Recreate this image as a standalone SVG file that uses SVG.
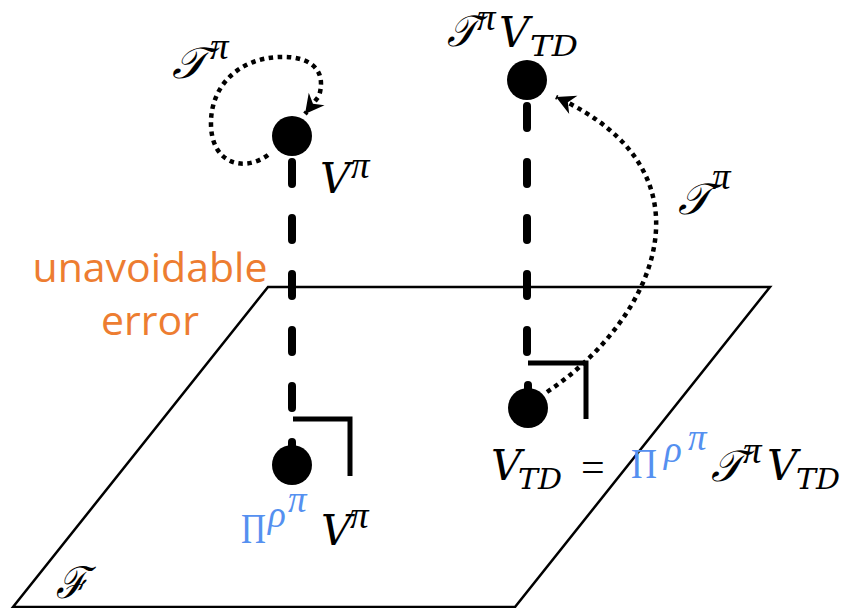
<svg xmlns="http://www.w3.org/2000/svg" width="842" height="608" viewBox="0 0 842 608">
<defs>
<style>
.plane{fill:none;stroke:#000;stroke-width:2.5;stroke-linejoin:miter}
.dash{fill:none;stroke:#000;stroke-width:8;stroke-linecap:round;stroke-dasharray:22 34}
.stub{fill:none;stroke:#000;stroke-width:8;stroke-linecap:round}
.ra{fill:none;stroke:#000;stroke-width:5;stroke-linejoin:miter}
.dot{fill:none;stroke:#000;stroke-width:4.5;stroke-dasharray:4.5 4.5}
.node{fill:#000}
.m{font-family:"DejaVu Serif","Liberation Serif",serif;font-style:italic;fill:#000}
.g{font-family:"Liberation Serif","DejaVu Serif",serif;font-style:italic}
.up{font-family:"Liberation Serif","DejaVu Serif",serif;font-style:normal}
.blue{fill:#5590F0}
.big{font-size:42px}
.scr{font-size:44px}
.sup{font-size:37px}
.sub{font-size:28px}
.orange{font-family:"Open Sans","Liberation Sans",sans-serif;font-size:41px;fill:#ED7D31}
</style>
<marker id="ah" markerUnits="userSpaceOnUse" markerWidth="26" markerHeight="26" viewBox="-22 -13 26 26" refX="0" refY="0" orient="auto">
<path d="M0,0 L-19,-10 L-13,0 L-19,10 Z" fill="#000"/>
</marker>
</defs>

<g id="plane">
<polygon class="plane" points="268,287 770,287 515,607 13,607"/>
<text class="m scr" x="56" y="598" textLength="32" lengthAdjust="spacingAndGlyphs">ℱ</text>
</g>

<g id="connectors">
<path class="dash" d="M292,162 V408"/>
<path class="dash" d="M527,106 V355"/>
<path class="stub" d="M292,442 V452"/>
<path class="stub" d="M528,385 V395"/>
<path class="ra" d="M293,419 H350 V476"/>
<path class="ra" d="M528,363 H586 V419"/>
<path class="dot" d="M268,155 C245,172 212,165 211,125 C210,85 240,58 280,57 C305,56 328,66 319,96 L305,114" marker-end="url(#ah)"/>
<path class="dot" d="M547,392 C655,320 722,172 556,97" marker-end="url(#ah)"/>
</g>

<g id="node-vpi">
<circle class="node" cx="292" cy="136" r="20"/>
<text class="m big" x="320" y="193">V</text>
<text class="m g sup" x="351" y="178">π</text>
</g>

<g id="loop-label">
<text class="m scr" x="172" y="78" textLength="35" lengthAdjust="spacingAndGlyphs">𝒯</text>
<text class="m g sup" x="210" y="59">π</text>
</g>

<g id="node-tvtd">
<circle class="node" cx="527" cy="80" r="20"/>
<text class="m scr" x="447" y="46" textLength="30" lengthAdjust="spacingAndGlyphs">𝒯</text>
<text class="m g sup" x="477" y="30">π</text>
<text class="m big" x="499" y="47">V</text>
<text class="m sub" x="530" y="56" textLength="48" lengthAdjust="spacingAndGlyphs">TD</text>
</g>

<g id="arc-label">
<text class="m scr" x="678" y="214" textLength="33" lengthAdjust="spacingAndGlyphs">𝒯</text>
<text class="m g sup" x="712" y="189">π</text>
</g>

<g id="node-proj">
<circle class="node" cx="292" cy="465" r="20"/>
<text class="up blue big" x="241" y="543" font-size="46" textLength="25" lengthAdjust="spacingAndGlyphs">Π</text>
<text class="m g blue sup" x="268" y="527">ρ</text>
<text class="m g blue sup" x="288" y="512">π</text>
<text class="m big" x="321" y="545">V</text>
<text class="m g sup" x="350" y="528">π</text>
</g>

<g id="node-vtd">
<circle class="node" cx="528" cy="408" r="20"/>
<text class="m big" x="491" y="480">V</text>
<text class="m sub" x="518" y="489" textLength="44" lengthAdjust="spacingAndGlyphs">TD</text>
<text class="up big" x="581" y="481">=</text>
<text class="up blue big" x="631" y="478" font-size="46" textLength="26" lengthAdjust="spacingAndGlyphs">Π</text>
<text class="m g blue sup" x="664" y="462">ρ</text>
<text class="m g blue sup" x="688" y="450">π</text>
<text class="m scr" x="711" y="481" textLength="32" lengthAdjust="spacingAndGlyphs">𝒯</text>
<text class="m g sup" x="743" y="463">π</text>
<text class="m big" x="767" y="480">V</text>
<text class="m sub" x="796" y="489" textLength="44" lengthAdjust="spacingAndGlyphs">TD</text>
</g>

<g id="label-error">
<text class="orange" x="150" y="282" text-anchor="middle">unavoidable</text>
<text class="orange" x="150" y="335" text-anchor="middle">error</text>
</g>
</svg>
